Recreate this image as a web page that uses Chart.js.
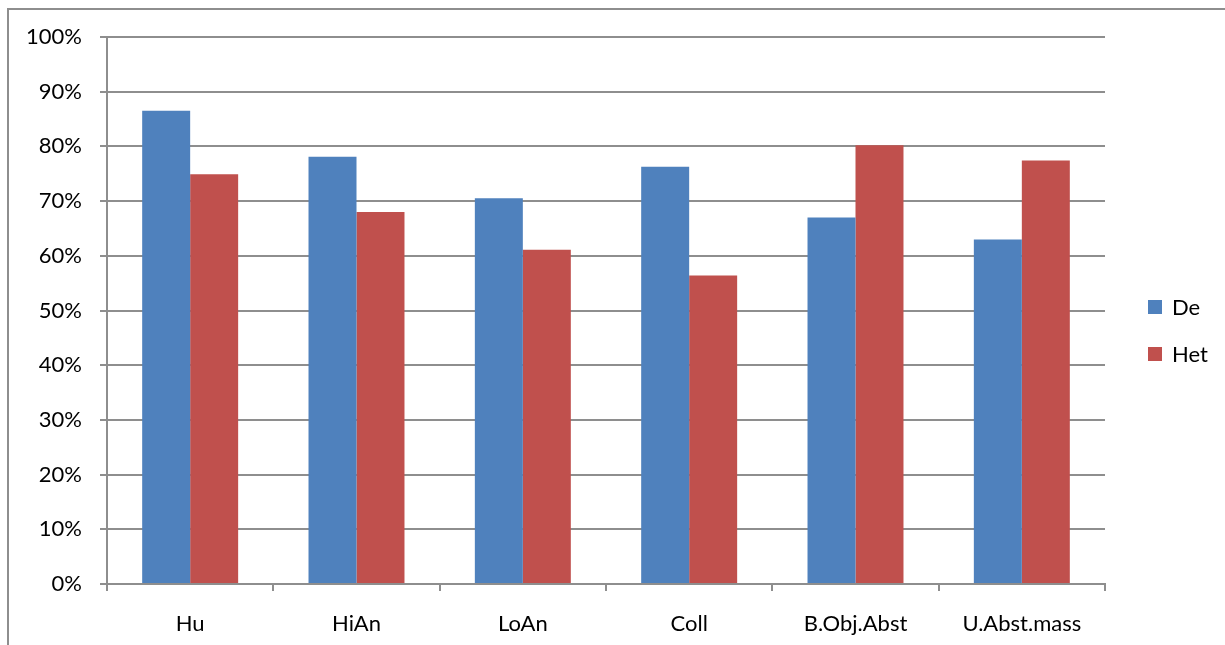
<!DOCTYPE html>
<html>
<head>
<meta charset="utf-8">
<script src="https://cdn.jsdelivr.net/npm/chart.js@4/dist/chart.umd.min.js"></script>
<style>
  html, body { margin: 0; padding: 0; background: #fff; overflow: hidden; }
  #wrap { position: relative; width: 1225px; height: 645px; }
  #frame { position: absolute; left: 7px; top: 8px; width: 1240px; height: 660px;
           border-left: 2px solid #8e8e8e; border-top: 2px solid #8e8e8e; pointer-events: none; }
  canvas { position: absolute; left: 0; top: 0; }
</style>
</head>
<body>
<div id="wrap">
  <canvas id="c" width="1225" height="645"></canvas>
  <div id="frame"></div>
</div>
<script>
// Share of responses per noun class, two groups
const categories = ['Hu', 'HiAn', 'LoAn', 'Coll', 'B.Obj.Abst', 'U.Abst.mass'];
const seriesNames = ['De', 'Het'];
const deValues  = [86.5, 78.1, 70.5, 76.3, 67.0, 63.0];
const hetValues = [74.9, 68.0, 61.1, 56.4, 80.2, 77.4];
const yTicks = [0, 10, 20, 30, 40, 50, 60, 70, 80, 90, 100];

const BLUE = '#4f81bd';
const RED = '#c0504d';
const GRID = '#8e8e8e';
const FONT = { family: 'Lato', size: 22 };

// Legend drawn at the right side, vertically stacked squares with labels
const sideLegend = {
  id: 'sideLegend',
  afterDraw(chart) {
    const ctx = chart.ctx;
    ctx.save();
    ctx.font = `${FONT.size}px ${FONT.family}`;
    ctx.textBaseline = 'middle';
    chart.data.datasets.forEach((ds, i) => {
      const cy = 307 + i * 47;
      ctx.fillStyle = ds.backgroundColor;
      ctx.fillRect(1148, cy - 7, 14, 14);
      ctx.fillStyle = '#000';
      ctx.fillText(ds.label, 1172, cy + 1);
    });
    ctx.restore();
  }
};

new Chart(document.getElementById('c'), {
  type: 'bar',
  data: {
    labels: categories,
    datasets: [
      { label: seriesNames[0], data: deValues, backgroundColor: BLUE },
      { label: seriesNames[1], data: hetValues, backgroundColor: RED }
    ]
  },
  options: {
    responsive: false,
    animation: false,
    layout: { padding: { top: 37, right: 120, bottom: 0, left: 0 } },
    datasets: { bar: { categoryPercentage: 0.577, barPercentage: 1.0 } },
    plugins: { legend: { display: false }, tooltip: { enabled: false } },
    scales: {
      x: {
        offset: true,
        grid: { offset: true, drawOnChartArea: false, drawTicks: true, tickLength: 7, color: GRID, lineWidth: 2 },
        border: { color: GRID, width: 2 },
        ticks: { color: '#000', font: FONT, padding: 20, maxRotation: 0 },
        afterFit(scale) { scale.height = 61; }
      },
      y: {
        min: 0, max: 100,
        afterBuildTicks(scale) { scale.ticks = yTicks.map(v => ({ value: v })); },
        grid: { color: GRID, lineWidth: 2, tickLength: 7 },
        border: { color: GRID, width: 2 },
        ticks: { color: '#000', font: FONT, padding: 18, callback: v => v + '%' },
        afterFit(scale) { scale.width = 107; }
      }
    }
  },
  plugins: [sideLegend]
});
</script>
</body>
</html>
